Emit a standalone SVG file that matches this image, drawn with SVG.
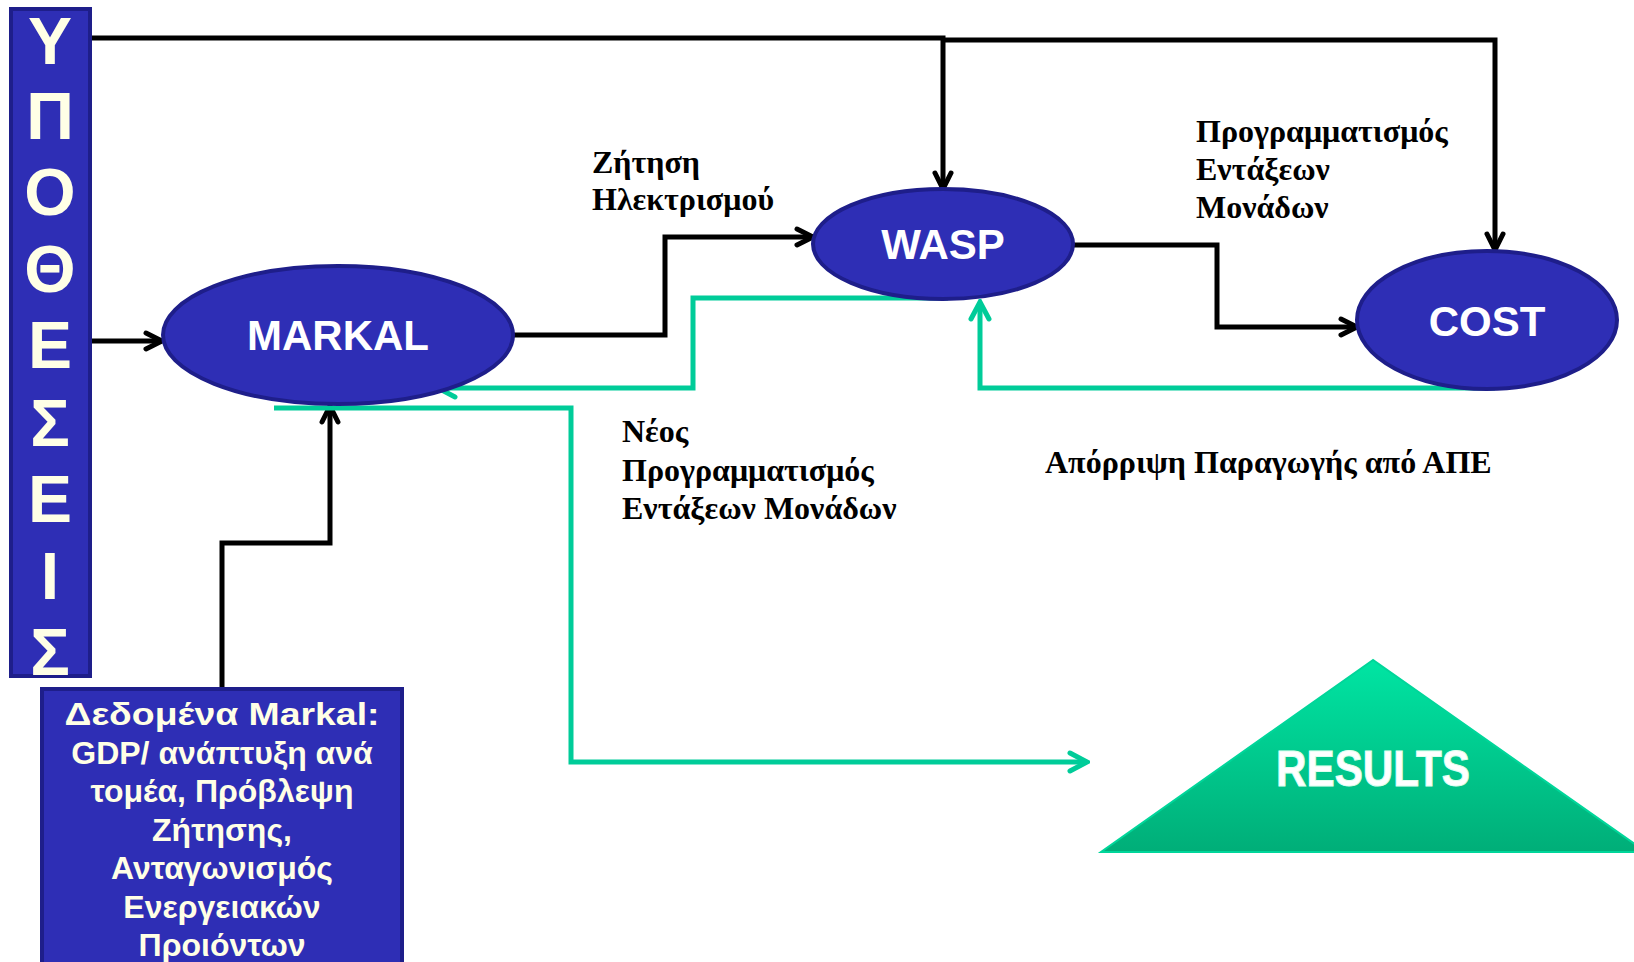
<svg xmlns="http://www.w3.org/2000/svg" width="1634" height="962" viewBox="0 0 1634 962">
<defs>
<style>
.node{fill:#2E2EB5;stroke:#1E1E8A;stroke-width:4}
.lbl{font-family:"Liberation Sans",Arial,sans-serif;font-weight:bold;fill:#fff;text-anchor:middle}
.cap{font-family:"Liberation Serif","Times New Roman",serif;font-weight:bold;font-size:32px;fill:#000}
.bar{font-family:"Liberation Sans",Arial,sans-serif;font-weight:bold;font-size:66px;fill:#FFFFE6;text-anchor:middle}
.box{font-family:"Liberation Sans",Arial,sans-serif;font-weight:bold;font-size:32px;fill:#FFFFE6;text-anchor:middle}
.blk{fill:none;stroke:#000;stroke-width:5}
.grn{fill:none;stroke:#00CC99;stroke-width:5}
</style>
<marker id="ab" viewBox="0 0 22 22" refX="19" refY="11" markerWidth="22" markerHeight="22" markerUnits="userSpaceOnUse" orient="auto">
<path d="M3,3 L19,11 L3,19" fill="none" stroke="#000" stroke-width="5" stroke-linecap="round"/>
</marker>
<marker id="ag" viewBox="0 0 24 24" refX="21" refY="12" markerWidth="24" markerHeight="24" markerUnits="userSpaceOnUse" orient="auto">
<path d="M4,3 L21,12 L4,21" fill="none" stroke="#00CC99" stroke-width="5" stroke-linecap="round"/>
</marker>
<linearGradient id="gr" x1="0" y1="0" x2="0" y2="1">
<stop offset="0" stop-color="#00E5A3"/>
<stop offset="1" stop-color="#00AE78"/>
</linearGradient>
</defs>
<rect width="1634" height="962" fill="#fff"/>

<g id="connectors">
<path class="blk" d="M91,38 H943 V189" marker-end="url(#ab)"/>
<path class="blk" d="M943,40 H1495 V250" marker-end="url(#ab)"/>
<path class="blk" d="M91,341 H162" marker-end="url(#ab)"/>
<path class="blk" d="M513,335 H665 V237 H813" marker-end="url(#ab)"/>
<path class="blk" d="M1073,245 H1217 V327 H1357" marker-end="url(#ab)"/>
<path class="blk" d="M222,688 V543 H330 V406" marker-end="url(#ab)"/>
<path class="grn" d="M948,298 H693 V388 H438" marker-end="url(#ag)"/>
<path class="grn" d="M1495,388 H980 V302" marker-end="url(#ag)"/>
<path class="grn" d="M274,408 H571 V762 H1087" marker-end="url(#ag)"/>
</g>

<g id="ypotheseis">
<rect x="11" y="9" width="79" height="667" class="node" stroke-width="3"/>
<text class="bar" x="50" y="64">Υ</text>
<text class="bar" x="50" y="139">Π</text>
<text class="bar" x="50" y="215">Ο</text>
<text class="bar" x="50" y="292">Θ</text>
<text class="bar" x="50" y="368">Ε</text>
<text class="bar" x="50" y="446">Σ</text>
<text class="bar" x="50" y="522">Ε</text>
<text class="bar" x="50" y="599">Ι</text>
<text class="bar" x="50" y="675">Σ</text>
</g>

<g id="markal">
<ellipse cx="338" cy="335" rx="175" ry="69" class="node"/>
<text class="lbl" x="338" y="350" font-size="42">MARKAL</text>
</g>

<g id="wasp">
<ellipse cx="943" cy="244" rx="130" ry="55" class="node"/>
<text class="lbl" x="943" y="259" font-size="42">WASP</text>
</g>

<g id="cost">
<ellipse cx="1487" cy="320" rx="130" ry="69" class="node"/>
<text class="lbl" x="1487" y="336" font-size="42">COST</text>
</g>

<g id="markal-data">
<rect x="42" y="689" width="360" height="290" class="node" stroke-width="3"/>
<text class="box" x="222" y="725" font-size="38" textLength="315" lengthAdjust="spacingAndGlyphs">Δεδομένα Markal:</text>
<text class="box" x="222" y="764">GDP/ ανάπτυξη ανά</text>
<text class="box" x="222" y="802">τομέα, Πρόβλεψη</text>
<text class="box" x="222" y="841">Ζήτησης,</text>
<text class="box" x="222" y="879">Ανταγωνισμός</text>
<text class="box" x="222" y="918">Ενεργειακών</text>
<text class="box" x="222" y="956">Προιόντων</text>
</g>

<g id="results">
<polygon points="1373,660 1101,852 1646,852" fill="url(#gr)" stroke="#00D69A" stroke-width="2"/>
<text class="lbl" x="1373" y="786" font-size="50" textLength="194" lengthAdjust="spacingAndGlyphs" stroke="#E0FFF0" stroke-width="1">RESULTS</text>
</g>

<g id="labels">
<text class="cap" x="592" y="173">Ζήτηση</text>
<text class="cap" x="592" y="210">Ηλεκτρισμού</text>
<text class="cap" x="1196" y="142">Προγραμματισμός</text>
<text class="cap" x="1196" y="180">Εντάξεων</text>
<text class="cap" x="1196" y="218">Μονάδων</text>
<text class="cap" x="622" y="442">Νέος</text>
<text class="cap" x="622" y="481">Προγραμματισμός</text>
<text class="cap" x="622" y="519">Εντάξεων Μονάδων</text>
<text class="cap" x="1045" y="473">Απόρριψη Παραγωγής από ΑΠΕ</text>
</g>
</svg>
